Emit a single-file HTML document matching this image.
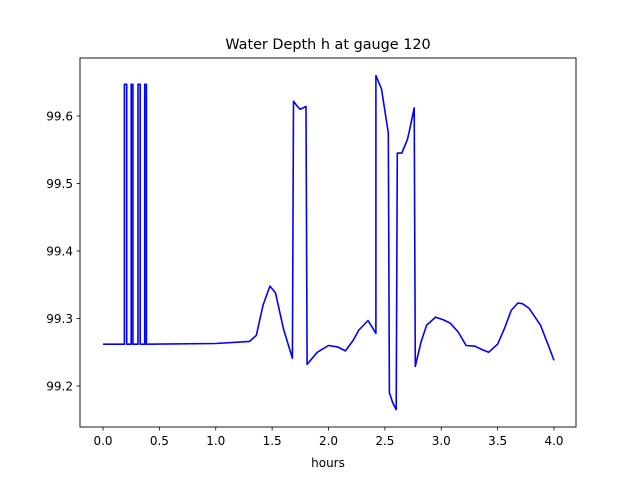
<!DOCTYPE html>
<html><head><meta charset="utf-8"><style>
body{margin:0;background:#fff}
svg text{font-family:"DejaVu Sans","Liberation Sans",sans-serif;font-size:12px;fill:#000}
</style></head><body>
<svg id="c" width="640" height="480">
<rect x="0" y="0" width="640" height="480" fill="#fff"/>
<text x="328" y="49" text-anchor="middle" style="font-size:14.4px">Water Depth h at gauge 120</text>
<text x="328" y="467" text-anchor="middle">hours</text>
<g id="ticks"></g>
<path id="line" fill="none" stroke="#0000ff" stroke-width="1.6" stroke-linejoin="round"/>
<rect x="80" y="58" width="496" height="369" fill="none" stroke="#000" stroke-width="0.9"/>
</svg>
<script>
const xTicks=[0,0.5,1.0,1.5,2.0,2.5,3.0,3.5,4.0];
const xTickLabels=["0.0","0.5","1.0","1.5","2.0","2.5","3.0","3.5","4.0"];
const yTicks=[99.2,99.3,99.4,99.5,99.6];
const yTickLabels=["99.2","99.3","99.4","99.5","99.6"];
const hours=[0,0.19,0.19,0.21,0.21,0.25,0.25,0.265,0.265,0.31,0.31,0.33,0.33,0.37,0.37,0.385,0.385,1.0,1.3,1.36,1.42,1.48,1.53,1.6,1.68,1.69,1.72,1.75,1.8,1.8,1.81,1.9,2.0,2.08,2.15,2.22,2.27,2.35,2.42,2.42,2.47,2.53,2.54,2.57,2.6,2.61,2.65,2.7,2.72,2.76,2.77,2.82,2.87,2.95,3.02,3.08,3.15,3.22,3.3,3.36,3.42,3.5,3.56,3.62,3.68,3.72,3.78,3.88,3.95,4.0];
const depth=[99.262,99.262,99.647,99.647,99.262,99.262,99.647,99.647,99.262,99.262,99.647,99.647,99.262,99.262,99.647,99.647,99.262,99.263,99.266,99.275,99.32,99.348,99.338,99.285,99.241,99.622,99.615,99.610,99.614,99.614,99.232,99.25,99.26,99.258,99.252,99.268,99.283,99.297,99.278,99.66,99.64,99.575,99.19,99.175,99.165,99.545,99.545,99.565,99.58,99.612,99.229,99.265,99.29,99.302,99.298,99.293,99.28,99.26,99.259,99.254,99.25,99.262,99.285,99.312,99.323,99.322,99.315,99.29,99.26,99.238];
const X=v=>103+v*112.75, Y=v=>386-(v-99.2)*675;
const NS="http://www.w3.org/2000/svg", g=document.getElementById('ticks');
function mk(t,a){const e=document.createElementNS(NS,t);for(const k in a)e.setAttribute(k,a[k]);g.appendChild(e);return e;}
xTicks.forEach((v,i)=>{
 const l=mk('line',{x1:X(v),x2:X(v),y1:427,y2:430.5,stroke:'#000','stroke-width':0.8});
 
 
 const t=mk('text',{x:X(v),y:445,'text-anchor':'middle'});t.textContent=xTickLabels[i];
 
 
});
yTicks.forEach((v,i)=>{
 const l=mk('line',{x1:76.5,x2:80,y1:Y(v),y2:Y(v),stroke:'#000','stroke-width':0.8});
 
 
 const t=mk('text',{x:73,y:Y(v)+4.5,'text-anchor':'end'});t.textContent=yTickLabels[i];
 
 
});
document.getElementById('line').setAttribute('d',hours.map((h,i)=>(i?'L':'M')+X(h).toFixed(1)+','+Y(depth[i]).toFixed(1)).join(''));
</script>
</body></html>
